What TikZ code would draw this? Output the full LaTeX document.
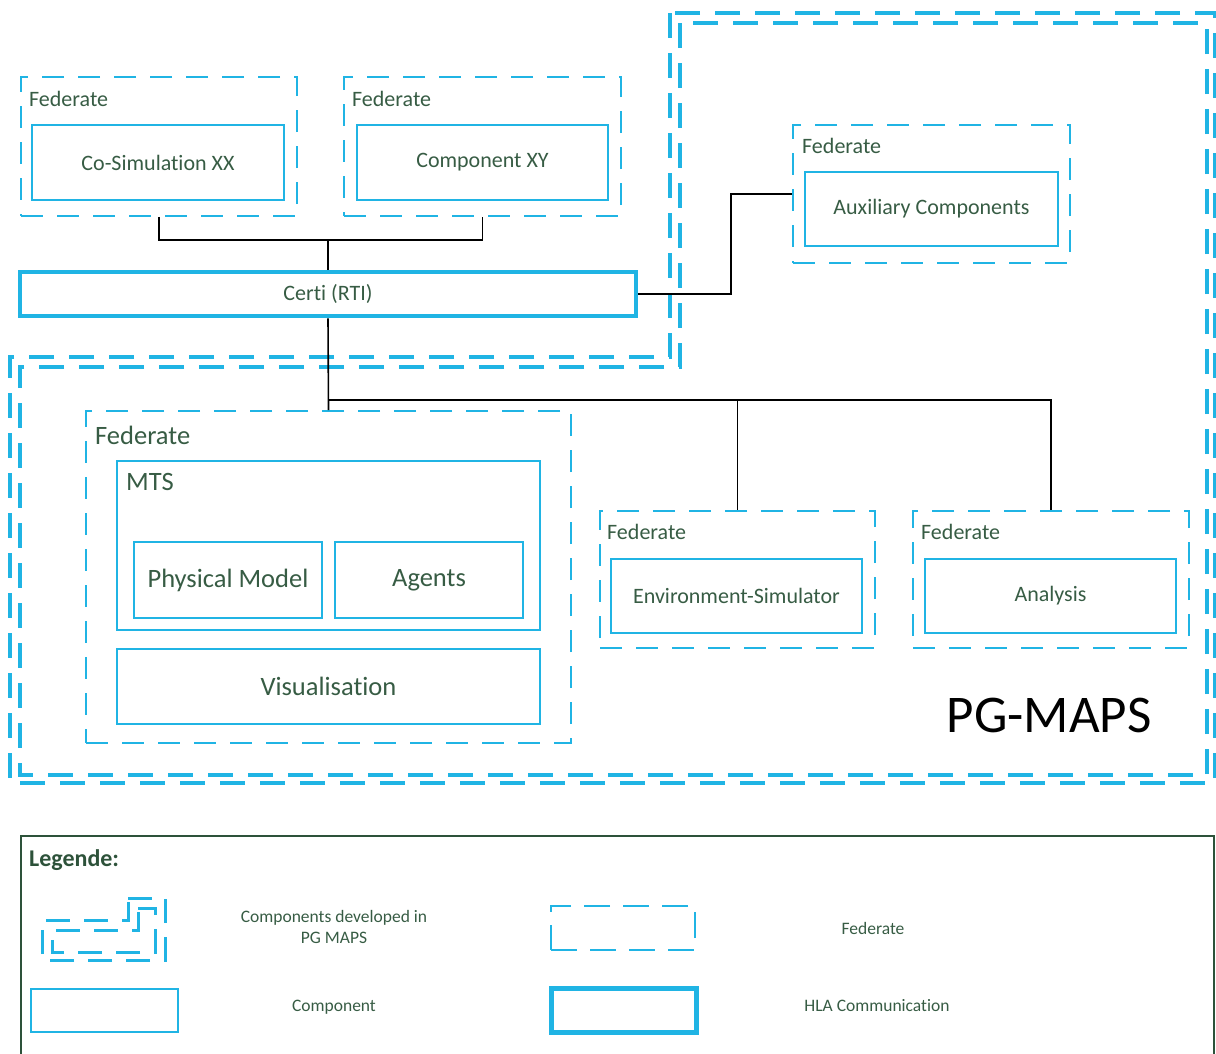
\documentclass[tikz,border=0pt]{standalone}
\usepackage{fontspec}
\setmainfont{Carlito}[Ligatures=NoCommon]
\usetikzlibrary{calc}

\definecolor{hcyan}{RGB}{32,180,228}
\definecolor{txtgreen}{RGB}{55,92,68}
\definecolor{legframe}{RGB}{45,82,58}

\newcommand\txtS{\fontsize{22}{26}\selectfont}
\newcommand\txtL{\fontsize{26.5}{31}\selectfont}
\newcommand\txtLeg{\fontsize{17.5}{21}\selectfont}
\newcommand\txtHead{\fontsize{24}{28}\selectfont\bfseries}
\newcommand\txtHuge{\fontsize{53}{60}\selectfont}

\tikzset{
  fedbox/.style={rectangle, draw=hcyan, line width=1.6pt, dash pattern=on 22pt off 14pt, inner sep=0pt},
  compbox/.style={rectangle, draw=hcyan, line width=1.8pt, inner sep=0pt, text=txtgreen, font=\txtS},
  compbig/.style={compbox, font=\txtL},
  hlabox/.style={rectangle, draw=hcyan, line width=4.5pt, inner sep=0pt, text=txtgreen, font=\txtS},
  fedlabel/.style={anchor=west, inner sep=0pt, text=txtgreen, font=\txtS},
  fedlabelbig/.style={fedlabel, font=\txtL},
  legtext/.style={inner sep=0pt, text=txtgreen, font=\txtLeg, align=center},
  link/.style={draw=black, line width=1.6pt},
  pgarea/.style={draw=hcyan, line width=4pt, dash pattern=on 25pt off 15pt, line join=miter},
  pgicon/.style={draw=hcyan, line width=3pt, dash pattern=on 24pt off 14pt},
}

\begin{document}
\begin{tikzpicture}[x=1pt, y=-1pt]
\useasboundingbox (0,0) rectangle (1216,1053);

% PG-MAPS area: stepped double dashed outline
\draw[pgarea] (670,13) -- (670,357) -- (10,357) -- (10,783) -- (1215,783) -- (1215,13) -- cycle;
\draw[pgarea] (680,23) -- (680,367) -- (20,367) -- (20,775) -- (1207,775) -- (1207,23) -- cycle;
\node[inner sep=0pt, text=black, font=\txtHuge] (pgmaps) at (1049,715) {PG-MAPS};

% upper federates
\node[fedbox, minimum width=276pt, minimum height=139pt] (fedA) at (159,146.5) {};
\node[fedlabel] (fedAlbl) at (29,99) {Federate};
\node[compbox, minimum width=252pt, minimum height=75pt] (cosim) at (158,162.5) {Co-Simulation XX};

\node[fedbox, minimum width=277pt, minimum height=139pt] (fedB) at (482.5,146.5) {};
\node[fedlabel] (fedBlbl) at (352,99) {Federate};
\node[compbox, minimum width=251pt, minimum height=75pt] (compxy) at (482.5,162.5) {Component XY};

\node[fedbox, minimum width=277pt, minimum height=138pt] (fedAux) at (931.5,194) {};
\node[fedlabel] (fedAuxlbl) at (802,146) {Federate};
\node[compbox, minimum width=253pt, minimum height=74pt] (aux) at (931.5,209) {Auxiliary Components};

% RTI
\node[hlabox, minimum width=616pt, minimum height=44pt] (certi) at (328,294) {Certi (RTI)};

% MTS federate
\node[fedbox, minimum width=485pt, minimum height=332pt] (fedMTS) at (328.5,577) {};
\node[fedlabelbig] (fedMTSlbl) at (95,435) {Federate};
\node[compbox, minimum width=423pt, minimum height=169pt] (mts) at (328.5,545.5) {};
\node[fedlabelbig] (mtslbl) at (126,482) {MTS};
\node[compbig, minimum width=188pt, minimum height=76pt] (phys) at (228,580) {Physical Model};
\node[compbig, minimum width=188pt, minimum height=76pt] (agents) at (429,580) {Agents};
\node[compbig, minimum width=423pt, minimum height=75pt] (vis) at (328.5,686.5) {Visualisation};

% lower right federates
\node[fedbox, minimum width=275pt, minimum height=137pt] (fedEnv) at (737.5,579.5) {};
\node[fedlabel] (fedEnvlbl) at (607,532) {Federate};
\node[compbox, minimum width=251pt, minimum height=74pt] (env) at (736.5,596) {Environment-Simulator};

\node[fedbox, minimum width=276pt, minimum height=137pt] (fedAna) at (1051,579.5) {};
\node[fedlabel] (fedAnalbl) at (921,532) {Federate};
\node[compbox, minimum width=251pt, minimum height=74pt] (ana) at (1050.5,596) {Analysis};

% connections
\coordinate (topjoin) at (328,240);
\coordinate (bus) at (328,400);
\draw[link] (fedA.south) |- (topjoin) -| (fedB.south);
\draw[link] (topjoin) -- (certi.north);
\draw[link] (certi.south) -- (fedMTS.north);
\draw[link] (bus) -| (fedEnv.north);
\draw[link] (bus) -| (fedAna.north);
\draw[link] (certi.east) -- ++(93,0) |- (fedAux.west);

% legend
\node[rectangle, draw=legframe, line width=1.5pt, minimum width=1193pt, minimum height=234pt, inner sep=0pt] (legend) at (617.5,953) {};
\node[anchor=west, inner sep=0pt, text=legframe, font=\txtHead] (leghead) at (29,860) {Legende:};

\draw[pgicon] (128,898) -- (165,898) -- (165,960) -- (42,960) -- (42,920) -- (128,920) -- cycle;
\draw[pgicon] (138,908) -- (155,908) -- (155,952) -- (52,952) -- (52,930) -- (138,930) -- cycle;
\node[legtext] (legpg) at (334,927) {Components developed in\\PG MAPS};

\node[compbox, minimum width=147pt, minimum height=43pt] (legcomp) at (104.5,1010.5) {};
\node[legtext] (legcomptxt) at (334,1007) {Component};

\node[fedbox, dash pattern=on 26pt off 13pt, minimum width=144pt, minimum height=44pt] (legfed) at (623,928) {};
\node[legtext] (legfedtxt) at (873,928) {Federate};

\node[hlabox, line width=5pt, minimum width=145pt, minimum height=44pt] (leghla) at (623.5,1010) {};
\node[legtext] (leghlatxt) at (877,1006) {HLA Communication};
\end{tikzpicture}
\end{document}
